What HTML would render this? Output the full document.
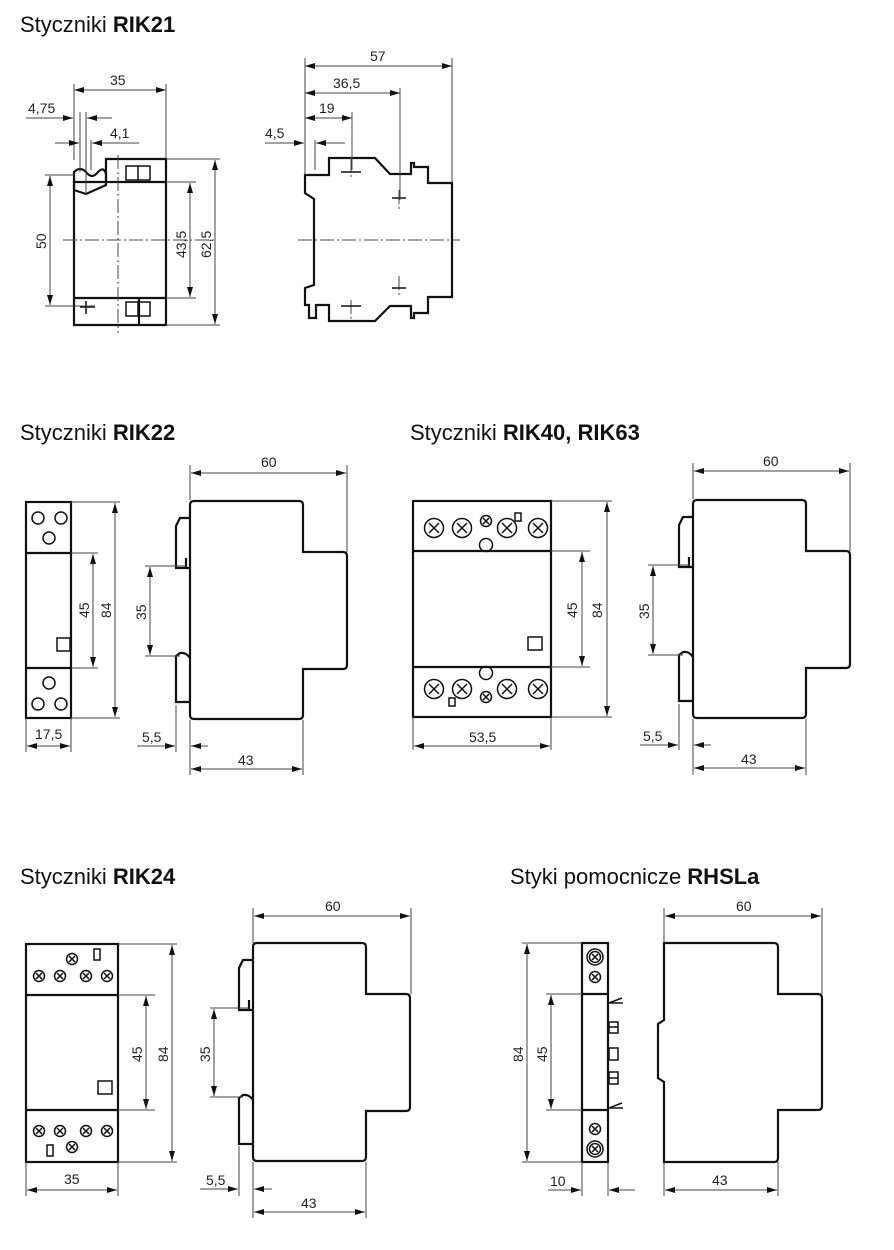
<!DOCTYPE html>
<html><head><meta charset="utf-8"><style>
html,body{margin:0;padding:0;background:#fff;}
svg{display:block;}
.b{fill:none;stroke:#111;stroke-width:2.2;}
.t{fill:none;stroke:#111;stroke-width:1.5;}
.d{fill:none;stroke:#444;stroke-width:1;}
.c{fill:none;stroke:#444;stroke-width:1;stroke-dasharray:14 3 2 3;}
text{font-family:"Liberation Sans",sans-serif;fill:#222;}
.h{font-size:22px;fill:#111;}
.n{font-size:14px;}
</style></head><body>
<svg width="894" height="1250" viewBox="0 0 894 1250" xmlns="http://www.w3.org/2000/svg">
<defs>
<marker id="a" viewBox="0 0 10 6" refX="10" refY="3" markerWidth="10" markerHeight="6" markerUnits="userSpaceOnUse" orient="auto-start-reverse"><path d="M0,0 L10,3 L0,6 Z" fill="#111"/></marker>
<g id="side">
<path class="b" d="M190,505 Q190,501 194,501 H299 Q303,501 303,505 V552 H343 Q347,552 347,556 V665 Q347,669 343,669 H303 V715 Q303,719 299,719 H194 Q190,719 190,715 Z"/>
<path class="b" d="M190,518 H180 L176,526 V568 H190 M186,568 V558"/>
<path class="b" d="M190,658 Q186,652 180,653 L176,656 V702 H190"/>
</g>
<g id="x"><circle r="9.5" class="t"/><path class="t" d="M-5,-5 L5,5 M5,-5 L-5,5"/></g>
<g id="sx"><circle r="5.5" class="t"/><path class="t" d="M-3,-3 L3,3 M3,-3 L-3,3"/></g>
</defs>

<text class="h" x="20" y="32">Styczniki <tspan font-weight="bold">RIK21</tspan></text>
<text class="h" x="20" y="440">Styczniki <tspan font-weight="bold">RIK22</tspan></text>
<text class="h" x="410" y="440">Styczniki <tspan font-weight="bold">RIK40, RIK63</tspan></text>
<text class="h" x="20" y="884">Styczniki <tspan font-weight="bold">RIK24</tspan></text>
<text class="h" x="510" y="884">Styki pomocnicze <tspan font-weight="bold">RHSLa</tspan></text>

<!-- RIK21 front -->
<path class="b" d="M74,182 V325 H166 V159 H106 V182 Z M74,298 H166 M139,298 V325 M106,182 H166"/>
<path class="b" d="M74,190 V172 Q80,166 86,172 Q92,180 98,172 Q104,166 106,174 V185 L86,194 L74,190"/>
<rect class="t" x="126" y="166" width="24" height="14"/><path class="t" d="M138,166 V180"/>
<rect class="t" x="126" y="302" width="24" height="14"/><path class="t" d="M138,302 V316"/>
<path class="t" d="M80,307 H95 M86,301 V314"/>
<path class="c" d="M63,240 H215 M118,155 V333"/>
<path class="d" d="M74,84 V160 M166,84 V158 M80,112 V172 M86,112 V194 M86,140 V172 M91,140 V170"/>
<line class="d" x1="74" y1="90" x2="166" y2="90" marker-start="url(#a)" marker-end="url(#a)"/>
<text class="n" x="110" y="85">35</text>
<line class="d" x1="26" y1="118" x2="73" y2="118" marker-end="url(#a)"/><line class="d" x1="112" y1="118" x2="87" y2="118" marker-end="url(#a)"/>
<text class="n" x="28" y="113">4,75</text>
<line class="d" x1="55" y1="143" x2="79" y2="143" marker-end="url(#a)"/><line class="d" x1="139" y1="143" x2="92" y2="143" marker-end="url(#a)"/>
<text class="n" x="110" y="138">4,1</text>
<path class="d" d="M45,175 H74 M45,306 H95 M166,182 H196 M166,298 H196 M166,159 H220 M166,325 H220"/>
<line class="d" x1="50" y1="176" x2="50" y2="305" marker-start="url(#a)" marker-end="url(#a)"/>
<text class="n" transform="translate(46,249) rotate(-90)">50</text>
<line class="d" x1="190" y1="183" x2="190" y2="297" marker-start="url(#a)" marker-end="url(#a)"/>
<text class="n" transform="translate(186,258) rotate(-90)">43,5</text>
<line class="d" x1="215" y1="160" x2="215" y2="324" marker-start="url(#a)" marker-end="url(#a)"/>
<text class="n" transform="translate(211,258) rotate(-90)">62,5</text>

<!-- RIK21 side -->
<path class="b" d="M305,175 H329 V158 H375 L390,174 H411 V163 H414 V167 H428 V183 H452 V297 H428 V313 H414 V318 H411 V306 H390 L375,321 H329 V305 H316 V318 H309 V305 H305 V288 L314,285 V199 L305,193 Z"/>
<path class="c" d="M298,240 H460 M351,158 V180 M351,300 V322 M399,190 V210 M399,276 V296"/>
<path class="t" d="M341,172 H361 M392,198 H406 M392,288 H406 M341,306 H361"/>
<path class="d" d="M305,58 V175 M452,58 V183 M400,88 V200 M352,112 V170 M315,140 V170"/>
<line class="d" x1="305" y1="66" x2="452" y2="66" marker-start="url(#a)" marker-end="url(#a)"/>
<text class="n" x="370" y="61">57</text>
<line class="d" x1="305" y1="93" x2="400" y2="93" marker-start="url(#a)" marker-end="url(#a)"/>
<text class="n" x="333" y="88">36,5</text>
<line class="d" x1="305" y1="118" x2="352" y2="118" marker-start="url(#a)" marker-end="url(#a)"/>
<text class="n" x="319" y="113">19</text>
<line class="d" x1="265" y1="143" x2="304" y2="143" marker-end="url(#a)"/><line class="d" x1="345" y1="143" x2="316" y2="143" marker-end="url(#a)"/>
<text class="n" x="265" y="138">4,5</text>

<!-- RIK22 front -->
<rect class="b" x="26" y="502" width="45" height="216"/>
<path class="b" d="M26,553 H71 M26,668 H71"/>
<rect class="t" x="57" y="638" width="13" height="13"/>
<circle class="t" cx="38" cy="518" r="6"/><circle class="t" cx="61" cy="518" r="6"/><circle class="t" cx="49" cy="538" r="6"/>
<circle class="t" cx="49" cy="683" r="6"/><circle class="t" cx="38" cy="704" r="6"/><circle class="t" cx="61" cy="704" r="6"/>
<path class="d" d="M71,502 H120 M71,718 H120 M71,553 H98 M71,668 H98 M26,718 V752 M71,718 V752"/>
<line class="d" x1="93" y1="554" x2="93" y2="667" marker-start="url(#a)" marker-end="url(#a)"/>
<text class="n" transform="translate(89,618) rotate(-90)">45</text>
<line class="d" x1="115" y1="503" x2="115" y2="717" marker-start="url(#a)" marker-end="url(#a)"/>
<text class="n" transform="translate(111,618) rotate(-90)">84</text>
<line class="d" x1="27" y1="746" x2="70" y2="746" marker-start="url(#a)" marker-end="url(#a)"/>
<text class="n" x="35" y="739">17,5</text>

<!-- RIK22 side -->
<use href="#side"/>
<path class="d" d="M190,465 V500 M347,465 V552 M145,566 H186 M145,656 H180 M176,705 V752 M190,720 V775 M303,720 V775"/>
<line class="d" x1="191" y1="473" x2="346" y2="473" marker-start="url(#a)" marker-end="url(#a)"/>
<text class="n" x="261" y="467">60</text>
<line class="d" x1="150" y1="567" x2="150" y2="655" marker-start="url(#a)" marker-end="url(#a)"/>
<text class="n" transform="translate(146,620) rotate(-90)">35</text>
<line class="d" x1="137" y1="746" x2="175" y2="746" marker-end="url(#a)"/><line class="d" x1="208" y1="746" x2="191" y2="746" marker-end="url(#a)"/>
<text class="n" x="142" y="742">5,5</text>
<line class="d" x1="191" y1="769" x2="302" y2="769" marker-start="url(#a)" marker-end="url(#a)"/>
<text class="n" x="238" y="765">43</text>

<!-- RIK40 front -->
<rect class="b" x="413" y="501" width="138" height="216"/>
<path class="b" d="M413,551 H551 M413,667 H551"/>
<use href="#x" x="434" y="528"/><use href="#x" x="462" y="528"/><use href="#x" x="507" y="528"/><use href="#x" x="538" y="528"/>
<use href="#sx" x="486" y="521"/><circle class="t" cx="486" cy="545" r="6.5"/><rect class="t" x="515" y="513" width="6" height="8"/>
<use href="#x" x="434" y="689"/><use href="#x" x="462" y="689"/><use href="#x" x="507" y="689"/><use href="#x" x="538" y="689"/>
<use href="#sx" x="486" y="697"/><circle class="t" cx="486" cy="673" r="6.5"/><rect class="t" x="449" y="698" width="6" height="8"/>
<rect class="t" x="528" y="637" width="14" height="13"/>
<path class="d" d="M551,501 H612 M551,717 H612 M551,551 H590 M551,667 H590 M413,717 V750 M551,717 V750"/>
<line class="d" x1="582" y1="552" x2="582" y2="666" marker-start="url(#a)" marker-end="url(#a)"/>
<text class="n" transform="translate(577,618) rotate(-90)">45</text>
<line class="d" x1="607" y1="502" x2="607" y2="716" marker-start="url(#a)" marker-end="url(#a)"/>
<text class="n" transform="translate(602,618) rotate(-90)">84</text>
<line class="d" x1="414" y1="746" x2="550" y2="746" marker-start="url(#a)" marker-end="url(#a)"/>
<text class="n" x="469" y="742">53,5</text>

<!-- RIK40 side -->
<use href="#side" transform="translate(503,-1)"/>
<path class="d" d="M693,463 V499 M850,463 V551 M648,565 H689 M648,655 H683 M679,704 V750 M693,719 V775 M806,719 V775"/>
<line class="d" x1="694" y1="471" x2="849" y2="471" marker-start="url(#a)" marker-end="url(#a)"/>
<text class="n" x="763" y="466">60</text>
<line class="d" x1="653" y1="566" x2="653" y2="654" marker-start="url(#a)" marker-end="url(#a)"/>
<text class="n" transform="translate(649,619) rotate(-90)">35</text>
<line class="d" x1="640" y1="745" x2="678" y2="745" marker-end="url(#a)"/><line class="d" x1="711" y1="745" x2="694" y2="745" marker-end="url(#a)"/>
<text class="n" x="643" y="741">5,5</text>
<line class="d" x1="694" y1="768" x2="805" y2="768" marker-start="url(#a)" marker-end="url(#a)"/>
<text class="n" x="741" y="764">43</text>

<!-- RIK24 front -->
<rect class="b" x="26" y="944" width="92" height="218"/>
<path class="b" d="M26,995 H118 M26,1110 H118"/>
<use href="#sx" x="39" y="976"/><use href="#sx" x="60" y="976"/><use href="#sx" x="86" y="976"/><use href="#sx" x="107" y="976"/><use href="#sx" x="72" y="959"/>
<rect class="t" x="94" y="949" width="6" height="11"/>
<use href="#sx" x="39" y="1131"/><use href="#sx" x="60" y="1131"/><use href="#sx" x="86" y="1131"/><use href="#sx" x="107" y="1131"/><use href="#sx" x="72" y="1147"/>
<rect class="t" x="47" y="1145" width="6" height="11"/>
<rect class="t" x="98" y="1081" width="14" height="13"/>
<path class="d" d="M118,944 H177 M118,1162 H177 M118,995 H155 M118,1110 H155 M26,1162 V1196 M118,1162 V1196"/>
<line class="d" x1="146" y1="996" x2="146" y2="1109" marker-start="url(#a)" marker-end="url(#a)"/>
<text class="n" transform="translate(142,1062) rotate(-90)">45</text>
<line class="d" x1="172" y1="945" x2="172" y2="1161" marker-start="url(#a)" marker-end="url(#a)"/>
<text class="n" transform="translate(168,1062) rotate(-90)">84</text>
<line class="d" x1="27" y1="1190" x2="117" y2="1190" marker-start="url(#a)" marker-end="url(#a)"/>
<text class="n" x="64" y="1184">35</text>

<!-- RIK24 side -->
<use href="#side" transform="translate(63,442)"/>
<path class="d" d="M253,908 V943 M411,908 V994 M210,1008 H249 M210,1097 H243 M239,1146 V1196 M253,1162 V1218 M366,1162 V1218"/>
<line class="d" x1="254" y1="916" x2="410" y2="916" marker-start="url(#a)" marker-end="url(#a)"/>
<text class="n" x="325" y="911">60</text>
<line class="d" x1="214" y1="1009" x2="214" y2="1096" marker-start="url(#a)" marker-end="url(#a)"/>
<text class="n" transform="translate(210,1062) rotate(-90)">35</text>
<line class="d" x1="200" y1="1189" x2="238" y2="1189" marker-end="url(#a)"/><line class="d" x1="272" y1="1189" x2="254" y2="1189" marker-end="url(#a)"/>
<text class="n" x="206" y="1185">5,5</text>
<line class="d" x1="254" y1="1212" x2="365" y2="1212" marker-start="url(#a)" marker-end="url(#a)"/>
<text class="n" x="301" y="1208">43</text>

<!-- RHSLa front -->
<rect class="b" x="582" y="943" width="26" height="219"/>
<path class="b" d="M582,994 H608 M582,1110 H608"/>
<circle class="t" cx="595" cy="957" r="8"/><use href="#sx" x="595" y="957"/><use href="#sx" x="595" y="977"/>
<use href="#sx" x="595" y="1129"/><circle class="t" cx="595" cy="1149" r="8"/><use href="#sx" x="595" y="1149"/>
<path class="t" d="M609,1003 L622,998 M609,1003 H623 M609,1108 L622,1103 M609,1108 H623"/>
<rect class="t" x="609" y="1022" width="9" height="11"/><path class="t" d="M609,1027 H618"/>
<rect class="t" x="609" y="1048" width="9" height="12"/>
<rect class="t" x="609" y="1072" width="9" height="12"/><path class="t" d="M609,1078 H618"/>
<path class="d" d="M522,943 H582 M522,1162 H582 M546,994 H582 M546,1110 H582 M582,1162 V1196 M608,1162 V1196"/>
<line class="d" x1="527" y1="944" x2="527" y2="1161" marker-start="url(#a)" marker-end="url(#a)"/>
<text class="n" transform="translate(523,1062) rotate(-90)">84</text>
<line class="d" x1="551" y1="995" x2="551" y2="1109" marker-start="url(#a)" marker-end="url(#a)"/>
<text class="n" transform="translate(547,1062) rotate(-90)">45</text>
<line class="d" x1="548" y1="1190" x2="581" y2="1190" marker-end="url(#a)"/><line class="d" x1="635" y1="1190" x2="609" y2="1190" marker-end="url(#a)"/>
<text class="n" x="550" y="1186">10</text>

<!-- RHSLa side -->
<path class="b" d="M664,943 H774 Q778,943 778,947 V994 H818 Q822,994 822,998 V1106 Q822,1110 818,1110 H778 V1158 Q778,1162 774,1162 H664 V1082 L658,1078 V1024 L664,1020 Z"/>
<path class="d" d="M664,908 V943 M822,908 V994 M664,1162 V1196 M778,1162 V1196"/>
<line class="d" x1="665" y1="916" x2="821" y2="916" marker-start="url(#a)" marker-end="url(#a)"/>
<text class="n" x="736" y="911">60</text>
<line class="d" x1="665" y1="1190" x2="777" y2="1190" marker-start="url(#a)" marker-end="url(#a)"/>
<text class="n" x="712" y="1185">43</text>
</svg>
</body></html>
